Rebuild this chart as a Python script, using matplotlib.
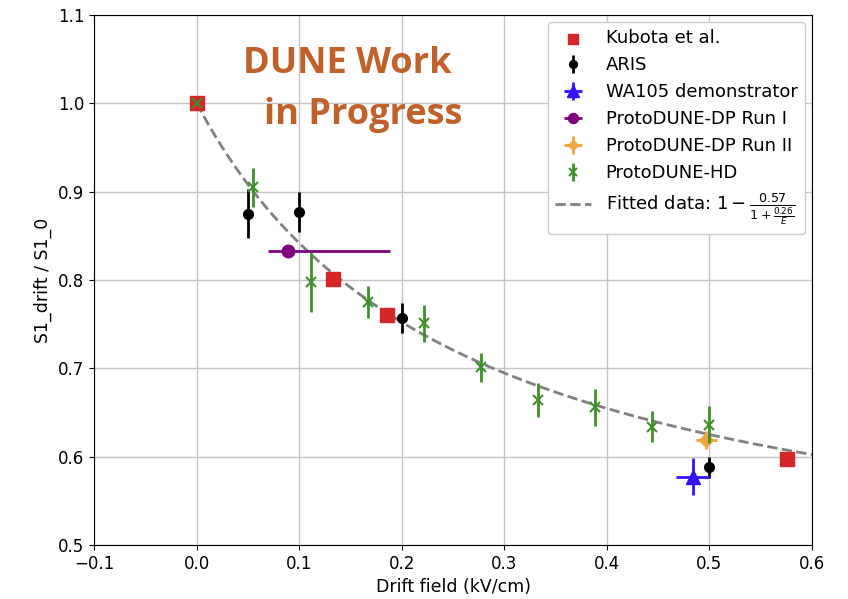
import numpy as np
import matplotlib
matplotlib.use("Agg")
import matplotlib.pyplot as plt

# Kubota et al.
kubota_x = [0.0, 0.133, 0.186, 0.576]
kubota_y = [1.0, 0.801, 0.760, 0.597]

# ARIS
aris_x = [0.05, 0.1, 0.2, 0.5]
aris_y = [0.875, 0.877, 0.757, 0.588]
aris_err = [0.028, 0.023, 0.017, 0.012]

# WA105 demonstrator
wa105_x = [0.484]
wa105_y = [0.577]
wa105_xerr = [0.017]
wa105_yerr = [0.021]

# ProtoDUNE-DP Run I
dp1_x = [0.089]
dp1_y = [0.833]
dp1_xerr_lo = [0.019]
dp1_xerr_hi = [0.100]

# ProtoDUNE-DP Run II
dp2_x = [0.497]
dp2_y = [0.619]
dp2_xerr = [0.01]
dp2_yerr = [0.01]

# ProtoDUNE-HD
hd_x = [0.0, 0.055, 0.111, 0.167, 0.222, 0.277, 0.333, 0.388, 0.444, 0.5]
hd_y = [1.0, 0.905, 0.798, 0.775, 0.751, 0.701, 0.664, 0.656, 0.634, 0.636]
hd_err = [0.0, 0.022, 0.034, 0.018, 0.021, 0.016, 0.019, 0.021, 0.018, 0.021]

# fit parameters: 1 - a / (1 + b/E)
fit_a = 0.57
fit_b = 0.26

fig = plt.figure(figsize=(8.48, 5.99), dpi=100)
ax = fig.add_axes([0.111, 0.0902, 0.8465, 0.885])

E = np.linspace(1e-5, 0.6, 400)
ax.plot(E, 1 - fit_a / (1 + fit_b / E), ls='--', color='gray', lw=2, zorder=2,
        label=r'Fitted data: $1 - \frac{0.57}{1 + \frac{0.26}{E}}$')

ax.scatter(kubota_x, kubota_y, marker='s', s=90, color='#d62728', zorder=3,
           label='Kubota et al.')
ax.errorbar(aris_x, aris_y, yerr=aris_err, fmt='o', color='black', ms=7,
            elinewidth=2, zorder=4, label='ARIS')
ax.errorbar(wa105_x, wa105_y, xerr=wa105_xerr, yerr=wa105_yerr, fmt='^',
            color='#3311ff', ms=10, elinewidth=2, zorder=4,
            label='WA105 demonstrator')
ax.errorbar(dp1_x, dp1_y, xerr=[dp1_xerr_lo, dp1_xerr_hi], fmt='o',
            color='purple', ms=9, elinewidth=2, zorder=4,
            label='ProtoDUNE-DP Run I')
ax.errorbar(dp2_x, dp2_y, xerr=dp2_xerr, yerr=dp2_yerr, fmt='D',
            color='#f0a63a', ms=7, elinewidth=2, zorder=4,
            label='ProtoDUNE-DP Run II')
ax.errorbar(hd_x, hd_y, yerr=hd_err, fmt='x', color='#3f8f2a', ms=7,
            mew=1.5, elinewidth=2, zorder=5, label='ProtoDUNE-HD')

ax.set_xlim(-0.1, 0.6)
ax.set_ylim(0.5, 1.1)
ax.set_xticks(np.arange(-0.1, 0.61, 0.1))
ax.set_yticks(np.arange(0.5, 1.11, 0.1))
ax.tick_params(labelsize=12)
ax.grid(True, color='#c4c4c4', lw=1)
ax.set_axisbelow(True)
ax.set_xlabel('Drift field (kV/cm)', fontsize=12.5)
ax.set_ylabel('S1_drift / S1_0', fontsize=12.5)

handles, labels = ax.get_legend_handles_labels()
order = [1, 2, 3, 4, 5, 6, 0]
ax.legend([handles[i] for i in order], [labels[i] for i in order],
          loc='upper right', fontsize=13, framealpha=1, markerscale=0.8,
          borderaxespad=0.4)

ax.text(0.045, 1.044, 'DUNE Work', color='#c0602a', fontsize=26,
        fontweight='bold', family='Open Sans', va='center')
ax.text(0.066, 0.987, 'in Progress', color='#c0602a', fontsize=26,
        fontweight='bold', family='Open Sans', va='center')

fig.savefig('out.png', dpi=100)
